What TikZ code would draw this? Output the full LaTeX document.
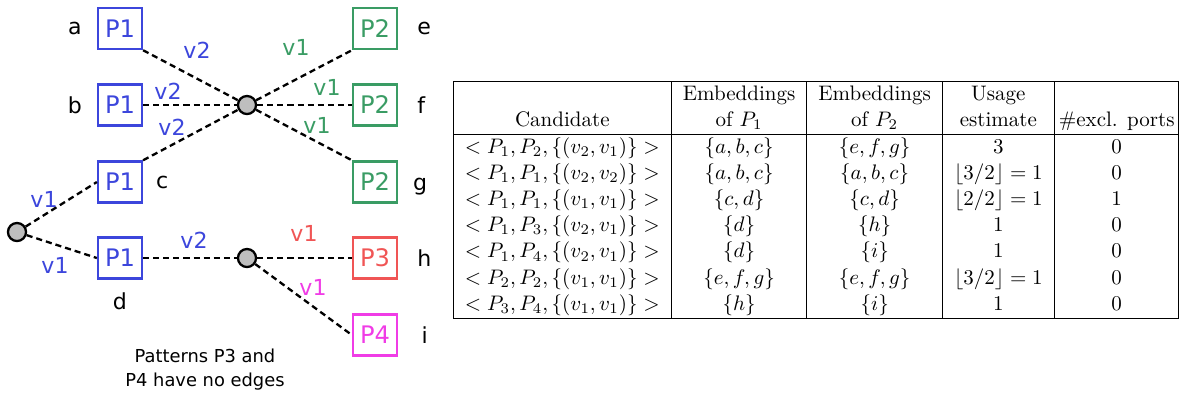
\documentclass[tikz,border=0pt]{standalone}
\usepackage{fontspec}
\usepackage{amsmath, amssymb}
\usepackage{tikz}
\usetikzlibrary{positioning}
\newfontfamily\diagfont{DejaVu Sans}
\definecolor{patblue}{HTML}{3C46DC}
\definecolor{patgreen}{HTML}{3A9C64}
\definecolor{patred}{HTML}{F05555}
\definecolor{patpink}{HTML}{F03CE6}
\definecolor{hubgray}{HTML}{BEBEBE}

\begin{document}
\begin{tikzpicture}[
  x=0.476pt, y=-0.476pt,
  patbox/.style={rectangle, draw, line width=1.2pt, minimum width=20.8pt, minimum height=19.5pt, inner sep=0pt, font=\diagfont\fontsize{11.5}{13}\selectfont},
  hub/.style={circle, draw=black, line width=1.1pt, fill=hubgray, minimum size=8.6pt, inner sep=0pt},
  link/.style={dash pattern=on 2.9pt off 1.9pt, line width=1.1pt},
  portlabel/.style={font=\diagfont\fontsize{10.5}{12}\selectfont, inner sep=1pt},
  namelabel/.style={font=\diagfont\fontsize{10.5}{12}\selectfont, inner sep=1pt}
]
  \useasboundingbox (0,0) rectangle (1184,397);

  % patterns
  \node[patbox, draw=patblue, text=patblue] (pa) at (120,28.5) {P1};
  \node[patbox, draw=patblue, text=patblue] (pb) at (120,105) {P1};
  \node[patbox, draw=patblue, text=patblue] (pc) at (120,182) {P1};
  \node[patbox, draw=patblue, text=patblue] (pd) at (120,258) {P1};
  \node[patbox, draw=patgreen, text=patgreen] (pe) at (375,28.5) {P2};
  \node[patbox, draw=patgreen, text=patgreen] (pf) at (375,105) {P2};
  \node[patbox, draw=patgreen, text=patgreen] (pg) at (375,182) {P2};
  \node[patbox, draw=patred, text=patred] (ph) at (375,258) {P3};
  \node[patbox, draw=patpink, text=patpink] (pi) at (375,335) {P4};

  \node[hub] (hubA) at (247,105) {};
  \node[hub] (hubB) at (247,258) {};
  \node[hub] (hubC) at (17,232) {};

  % embedding names
  \node[namelabel, left=6pt of pa] (la) {a};
  \node[namelabel, left=6pt of pb] (lb) {b};
  \node[namelabel, right=5pt of pc] (lc) {c};
  \node[namelabel, below=5pt of pd] (ld) {d};
  \node[namelabel, right=8pt of pe] (le) {e};
  \node[namelabel, right=8pt of pf] (lf) {f};
  \node[namelabel, right=6pt of pg, yshift=-2pt] (lg) {g};
  \node[namelabel, right=8pt of ph] (lh) {h};
  \node[namelabel, right=10pt of pi] (li) {i};

  % edges
  \draw[link] (pa.south east) -- (hubA);
  \draw[link] (pb) -- (hubA);
  \draw[link] (pc.north east) -- (hubA);
  \draw[link] (hubA) -- (pe.south west);
  \draw[link] (hubA) -- (pf);
  \draw[link] (hubA) -- (pg.north west);
  \draw[link] (hubC) -- (pc.west);
  \draw[link] (hubC) -- (pd.west);
  \draw[link] (pd) -- (hubB);
  \draw[link] (hubB) -- (ph);
  \draw[link] (hubB) -- (pi.west);

  % ports
  \node[portlabel, text=patblue] (v2a) at (197,50) {v2};
  \node[portlabel, text=patblue] (v2b) at (168,91) {v2};
  \node[portlabel, text=patblue] (v2c) at (172,127) {v2};
  \node[portlabel, text=patgreen] (v1e) at (296,47) {v1};
  \node[portlabel, text=patgreen] (v1f) at (327,87) {v1};
  \node[portlabel, text=patgreen] (v1g) at (317,125) {v1};
  \node[portlabel, text=patblue] (v1c) at (44,199) {v1};
  \node[portlabel, text=patblue] (v1d) at (55,265) {v1};
  \node[portlabel, text=patblue] (v2d) at (194,240) {v2};
  \node[portlabel, text=patred] (v1h) at (304,233) {v1};
  \node[portlabel, text=patpink] (v1i) at (313,287) {v1};

  \node[font=\diagfont\fontsize{8.5}{11.4}\selectfont, align=center] (note) at (205,370) {Patterns P3 and\\P4 have no edges};

  % candidate table
  \node[anchor=north west, inner sep=0pt] (cands) at (453,81) {%
    \setlength{\tabcolsep}{5.5pt}\renewcommand{\arraystretch}{1.035}%
    \begin{tabular}{|c|c|c|c|@{\hspace{2pt}}c@{\hspace{2pt}}|}
      \hline
       & Embeddings & Embeddings & Usage & \\
      Candidate & of $P_1$ & of $P_2$ & estimate & \#excl. ports \\
      \hline
      $<P_1,P_2,\{(v_2,v_1)\}>$ & $\{a,b,c\}$ & $\{e,f,g\}$ & 3 & 0 \\
      $<P_1,P_1,\{(v_2,v_2)\}>$ & $\{a,b,c\}$ & $\{a,b,c\}$ & $\lfloor 3/2\rfloor=1$ & 0 \\
      $<P_1,P_1,\{(v_1,v_1)\}>$ & $\{c,d\}$ & $\{c,d\}$ & $\lfloor 2/2\rfloor=1$ & 1 \\
      $<P_1,P_3,\{(v_2,v_1)\}>$ & $\{d\}$ & $\{h\}$ & 1 & 0 \\
      $<P_1,P_4,\{(v_2,v_1)\}>$ & $\{d\}$ & $\{i\}$ & 1 & 0 \\
      $<P_2,P_2,\{(v_1,v_1)\}>$ & $\{e,f,g\}$ & $\{e,f,g\}$ & $\lfloor 3/2\rfloor=1$ & 0 \\
      $<P_3,P_4,\{(v_1,v_1)\}>$ & $\{h\}$ & $\{i\}$ & 1 & 0 \\
      \hline
    \end{tabular}};
\end{tikzpicture}
\end{document}
